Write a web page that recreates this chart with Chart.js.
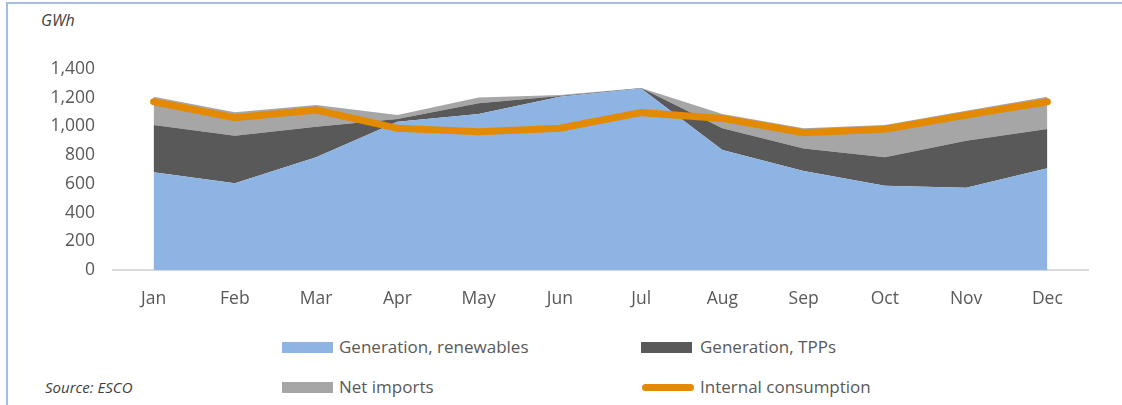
<!DOCTYPE html>
<html>
<head>
<meta charset="utf-8">
<script src="https://cdn.jsdelivr.net/npm/chart.js@4/dist/chart.umd.min.js"></script>
<style>
    body { margin: 0; width: 1122px; height: 405px; background: #fff; position: relative; overflow: hidden; font-family: "Open Sans", sans-serif; }
    #frame { position: absolute; left: 6px; top: 2px; width: 1200px; height: 500px; border-left: 2px solid #A3BEE0; border-top: 2px solid #A3BEE0; }
    #wrap { position: absolute; left: 0; top: 0; width: 1122px; height: 320px; }
    .txt { position: absolute; color: #595959; font-size: 17px; line-height: 20px; white-space: nowrap; }
    .ital { font-style: italic; color: #404040; font-size: 15px; }
    .box { position: absolute; width: 51px; height: 11px; }
    .ln { position: absolute; width: 52px; height: 7px; border-radius: 4px; }
</style>
</head>
<body>
<div id="frame"></div>
<div class="txt ital" style="left:41px; top:10px; font-size:16px;">GWh</div>
<div id="wrap"><canvas id="chart"></canvas></div>

<div class="box" style="left:282px; top:342px; background:#8EB4E3;"></div>
<div class="txt" style="left:339px; top:337px;">Generation, renewables</div>
<div class="box" style="left:641px; top:342px; background:#595959;"></div>
<div class="txt" style="left:700px; top:337px;">Generation, TPPs</div>
<div class="box" style="left:282px; top:382px; background:#A6A6A6;"></div>
<div class="txt" style="left:339px; top:377px;">Net imports</div>
<div class="ln" style="left:642px; top:384px; background:#E38A00;"></div>
<div class="txt" style="left:700px; top:377px;">Internal consumption</div>
<div class="txt ital" style="left:45px; top:377px;">Source: ESCO</div>

<script>
const months = ["Jan", "Feb", "Mar", "Apr", "May", "Jun", "Jul", "Aug", "Sep", "Oct", "Nov", "Dec"];
const renewables = [680, 604, 785, 1033, 1086, 1207, 1265, 836, 689, 587, 573, 708];
const tpps = [330, 331, 213, 18, 75, 5, 2, 151, 158, 198, 328, 274];
const netImports = [197, 163, 151, 28, 41, 7, 1, 99, 140, 225, 209, 225];
const consumption = [1172, 1061, 1114, 987, 963, 987, 1096, 1056, 956, 980, 1079, 1172];

const yMax = 1400;
const yStep = 200;

function area(label, values, color, fill) {
    return {
        label: label,
        data: values,
        backgroundColor: color,
        borderWidth: 0,
        pointRadius: 0,
        fill: fill,
        stack: "supply",
        tension: 0
    };
}

new Chart(document.getElementById("chart").getContext("2d"), {
    type: "line",
    data: {
        labels: months,
        datasets: [
            {
                label: "Internal consumption",
                data: consumption,
                borderColor: "#E38A00",
                borderWidth: 7,
                borderCapStyle: "round",
                borderJoinStyle: "miter",
                pointRadius: 0,
                fill: false,
                stack: "demand",
                tension: 0
            },
            area("Generation, renewables", renewables, "#8EB4E3", "origin"),
            area("Generation, TPPs", tpps, "#595959", "-1"),
            area("Net imports", netImports, "#A6A6A6", "-1")
        ]
    },
    options: {
        responsive: true,
        maintainAspectRatio: false,
        animation: false,
        layout: { padding: { left: 0, right: 34, top: 69, bottom: 0 } },
        plugins: { legend: { display: false }, tooltip: { enabled: false } },
        scales: {
            x: {
                offset: true,
                grid: { display: false, drawTicks: false },
                border: { display: true, color: "#D9D9D9", width: 2 },
                ticks: { color: "#595959", font: { family: "Open Sans", size: 17.5 }, padding: 19 },
                afterFit: (scale) => { scale.height = 50; }
            },
            y: {
                stacked: true,
                min: 0,
                max: yMax,
                grid: { display: false, drawTicks: false },
                border: { display: false },
                ticks: {
                    stepSize: yStep,
                    color: "#595959",
                    font: { family: "Open Sans", size: 17.5 },
                    padding: 18,
                    callback: (v) => v.toLocaleString("en-US")
                },
                afterFit: (scale) => { scale.width = 113; }
            }
        }
    }
});
</script>
</body>
</html>
